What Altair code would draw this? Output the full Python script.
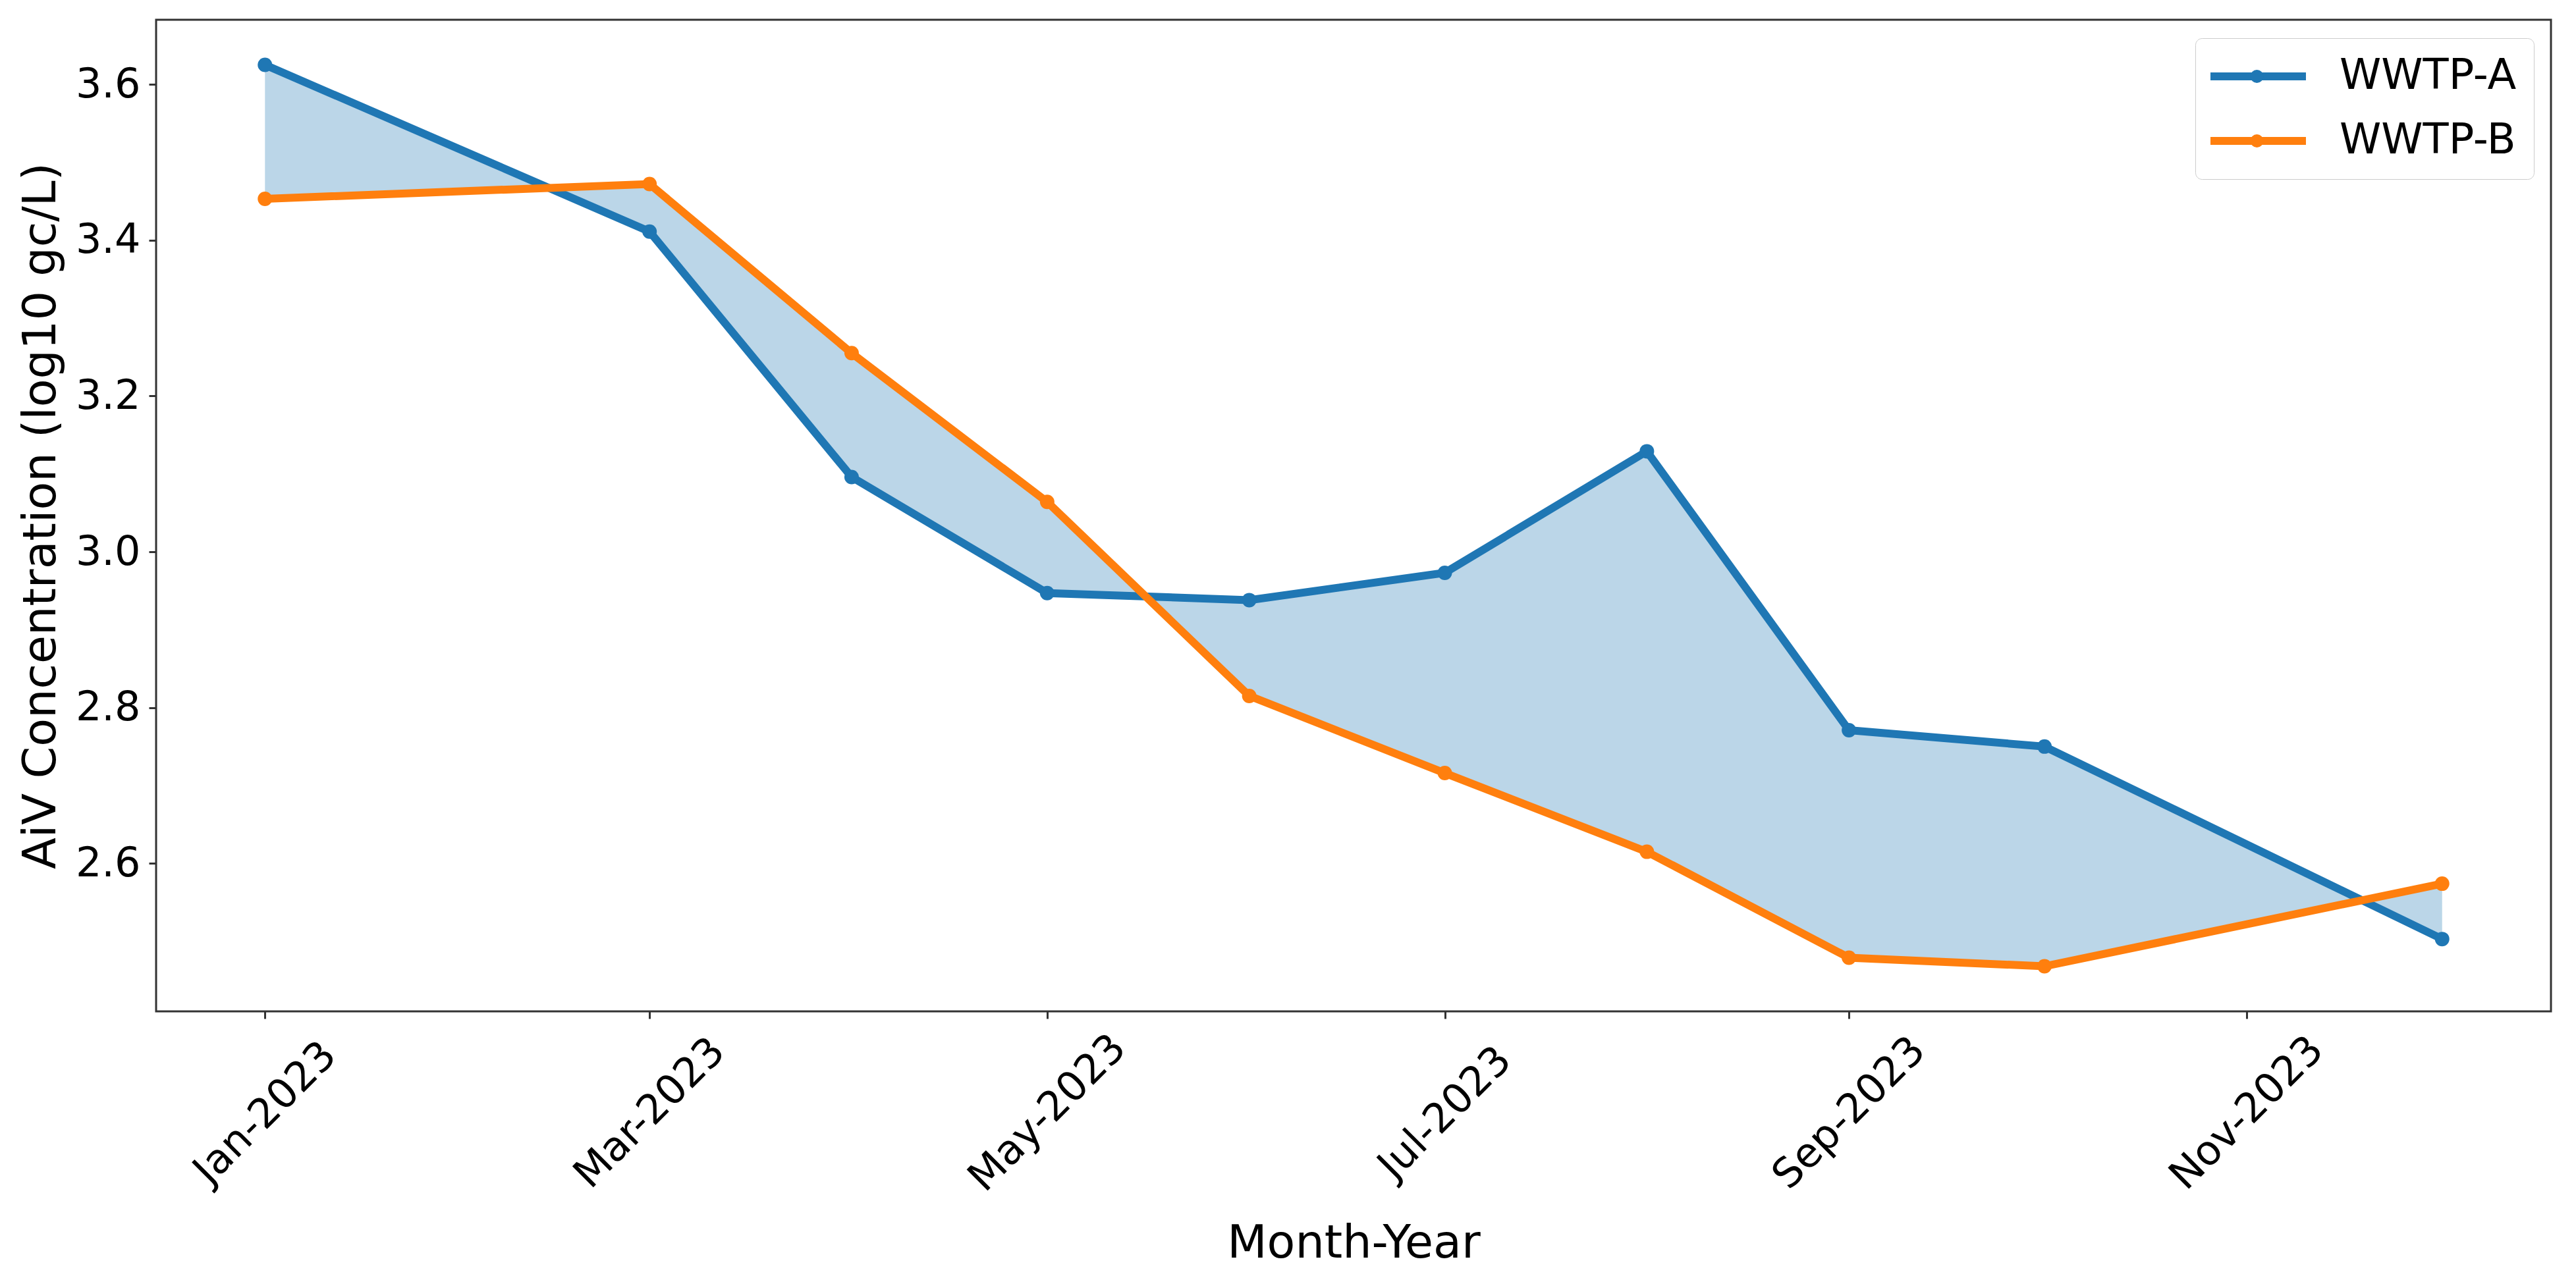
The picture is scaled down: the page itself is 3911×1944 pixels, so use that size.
import altair as alt
import pandas as pd

# Monthly AiV concentrations (log10 gc/L) at two treatment plants
months = ["2023-01-01", "2023-03-01", "2023-04-01", "2023-05-01", "2023-06-01",
          "2023-07-01", "2023-08-01", "2023-09-01", "2023-10-01", "2023-12-01"]
wwtp_a = [3.625, 3.411, 3.096, 2.947, 2.938, 2.973, 3.129, 2.771, 2.750, 2.503]
wwtp_b = [3.453, 3.472, 3.255, 3.064, 2.815, 2.716, 2.615, 2.479, 2.468, 2.574]

series_names = ["WWTP-A", "WWTP-B"]
series_colors = ["#1f77b4", "#ff7f0e"]

tick_months = [1, 3, 5, 7, 9, 11]
y_ticks = [2.6, 2.8, 3.0, 3.2, 3.4, 3.6]

FONT = "DejaVu Sans"

wide = pd.DataFrame({"month": months, "a": wwtp_a, "b": wwtp_b})
long = pd.concat([
    pd.DataFrame({"month": months, "series": series_names[0], "value": wwtp_a}),
    pd.DataFrame({"month": months, "series": series_names[1], "value": wwtp_b}),
])
# separate column for the marker layer so its legend stays apart from the line legend
long["plant"] = long["series"]

# matplotlib-style 5% margins around the data range
lo, hi = min(wwtp_a + wwtp_b), max(wwtp_a + wwtp_b)
pad = (hi - lo) * 0.05
y_scale = alt.Scale(domain=[lo - pad, hi + pad], nice=False, zero=False)
x_scale = alt.Scale(
    type="utc",
    domain=[alt.DateTime(year=2022, month=12, date=15, hours=7, minutes=12, utc=True),
            alt.DateTime(year=2023, month=12, date=17, hours=16, minutes=48, utc=True)],
    nice=False,
)

x_axis = alt.Axis(
    values=[alt.DateTime(year=2023, month=m, date=1, utc=True) for m in tick_months],
    format="%b-%Y",
    labelAngle=-45, labelAlign="center", labelBaseline="middle",
    labelPadding=143, labelFlush=False, labelOverlap=False, labelLimit=0,
    labelFontSize=62, labelColor="black", labelFont=FONT,
    tickSize=11, tickWidth=3, tickColor="#333333",
    domain=False, grid=False,
    title="Month-Year", titleFontSize=70, titleFontWeight="normal", titleFont=FONT,
    titleColor="black", titleY=373, titleBaseline="alphabetic",
)
y_axis = alt.Axis(
    values=y_ticks, format=".1f",
    labelFontSize=62, labelColor="black", labelFont=FONT, labelPadding=13,
    tickSize=11, tickWidth=3, tickColor="#333333",
    domain=False, grid=False,
    title="AiV Concentration (log10 gc/L)", titleFontSize=70, titleFontWeight="normal",
    titleFont=FONT, titleColor="black", titleX=-154, titleBaseline="alphabetic",
)

x_enc = alt.X("month:T", scale=x_scale, axis=x_axis)
y_enc = alt.Y("value:Q", scale=y_scale, axis=y_axis)

# Legend: a framed legend with line swatches, plus a label-free one that
# lays the round markers over the middle of each swatch.
LEG_X, LEG_Y, LEG_PAD = 3096, 28, 26
line_legend = alt.Legend(
    orient="none", legendX=LEG_X, legendY=LEG_Y, title=None,
    symbolType="M-1.458,0H4.583", symbolSize=2304, symbolStrokeWidth=12,
    labelFontSize=64, labelFont=FONT, labelColor="black", labelLimit=0,
    labelOffset=129, padding=LEG_PAD, rowPadding=34,
    strokeColor="#cccccc", cornerRadius=10,
)
dot_legend = alt.Legend(
    orient="none", legendX=LEG_X + 57.5, legendY=LEG_Y + 22, title=None,
    symbolType="circle", symbolSize=400, symbolStrokeWidth=0,
    labelExpr="''", labelFontSize=1, labelOffset=0,
    padding=LEG_PAD, rowPadding=78,
)

band = alt.Chart(wide).mark_area(color="#1f77b4", opacity=0.3).encode(
    x=x_enc,
    y=alt.Y("a:Q", scale=y_scale, axis=y_axis),
    y2="b:Q",
)

lines = alt.Chart(long).mark_line(strokeWidth=12).encode(
    x=x_enc, y=y_enc,
    color=alt.Color("series:N",
                    scale=alt.Scale(domain=series_names, range=series_colors),
                    legend=line_legend),
)

dots = alt.Chart(long).mark_circle(size=484, opacity=1).encode(
    x=x_enc, y=y_enc,
    fill=alt.Fill("plant:N",
                  scale=alt.Scale(domain=series_names, range=series_colors),
                  legend=dot_legend),
)

chart = (
    alt.layer(band, lines, dots)
    .resolve_legend(color="independent", fill="independent")
    .properties(
        width=3636, height=1506,
        padding={"left": 237, "top": 30, "right": 38, "bottom": 408},
        autosize=alt.AutoSizeParams(type="none"),
        background="white",
    )
    .configure(font=FONT)
    .configure_view(stroke="#333333", strokeWidth=3)
)

chart.save("out.html", embed_options={"renderer": "svg", "actions": False})
